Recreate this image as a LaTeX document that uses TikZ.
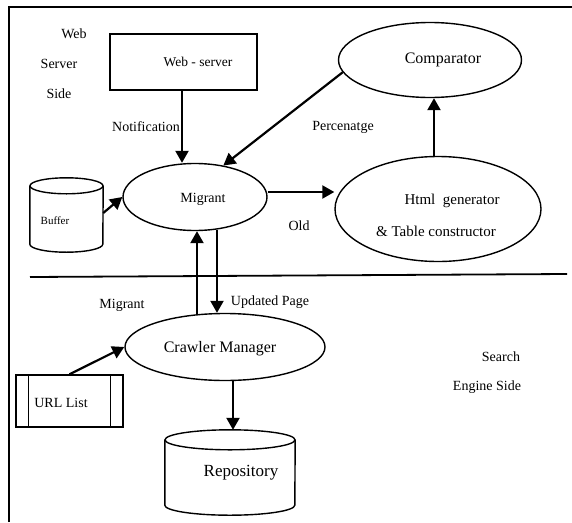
\documentclass[tikz,border=0pt]{standalone}
\usepackage{fontspec}
\setmainfont{Liberation Serif}
\usetikzlibrary{shapes.geometric,arrows.meta}

\tikzset{
  shapeline/.style={draw=black, line width=1.4pt},
  oval/.style={shapeline, ellipse, inner sep=0pt},
  lbl/.style={inner sep=0pt, font=\fontsize{14}{16}\selectfont},
  arr/.style={draw=black, line width=2.2pt, -{Triangle[length=12pt,width=13pt]}},
  frameline/.style={draw=black, line width=1.6pt},
  divider/.style={draw=black, line width=1.8pt},
  hidden/.style={inner sep=0pt, draw=none}
}

\begin{document}
\begin{tikzpicture}[x=1pt, y=-1pt]
\useasboundingbox (0,0) rectangle (572,522);

% outer frame (open on the right and bottom)
\coordinate (fBL) at (9,522);
\coordinate (fTL) at (9,7);
\coordinate (fTR) at (572,7);
\draw[frameline] (fBL) -- (fTL) -- (fTR);

% boundary between the two sides
\coordinate (dL) at (30,277);
\coordinate (dR) at (567,274);
\draw[divider] (dL) -- (dR);

% side captions
\node[lbl] (t-web)    at (74,34)  {Web};
\node[lbl] (t-server) at (59,64)  {Server};
\node[lbl] (t-side)   at (59,94)  {Side};
\node[lbl] (t-search) at (501,357) {Search};
\node[lbl] (t-engine) at (487,387) {Engine Side};

% web server box
\node[shapeline, rectangle, minimum width=147pt, minimum height=56pt, inner sep=0pt] (ws) at (183.5,62) {};
\node[lbl, font=\fontsize{13.5}{16}\selectfont] (ws-t) at (198,62) {Web - server};

% migrant
\node[oval, minimum width=144pt, minimum height=67pt] (mig) at (195,197) {};
\node[lbl] (mig-t) at (203,199) {Migrant};

% comparator
\node[oval, minimum width=183pt, minimum height=75pt] (cmp) at (430,60) {};
\node[lbl, font=\fontsize{16}{18}\selectfont] (cmp-t) at (443,60) {Comparator};

% html generator & table constructor
\node[oval, minimum width=206pt, minimum height=105pt] (html) at (438,209) {};
\node[lbl, font=\fontsize{15}{17}\selectfont] (html-t1) at (452,201) {Html\ \ generator};
\node[lbl, font=\fontsize{15}{17}\selectfont] (html-t2) at (436,231) {\& Table constructor};

% buffer store
\node[hidden, minimum width=73pt, minimum height=74pt] (buf) at (66.5,215) {};
\draw[shapeline] ([yshift=-8pt]buf.north west) -- ([yshift=8pt]buf.south west)
  arc[start angle=180, end angle=360, x radius=36.5pt, y radius=8pt]
  -- ([yshift=-8pt]buf.north east);
\draw[shapeline] ([yshift=-8pt]buf.north) ellipse[x radius=36.5pt, y radius=8pt];
\node[lbl, font=\fontsize{11}{13}\selectfont] (buf-t) at (55,221) {Buffer};

% crawler manager
\node[oval, minimum width=200pt, minimum height=67pt] (cm) at (225,347) {};
\node[lbl, font=\fontsize{16}{18}\selectfont] (cm-t) at (220,349) {Crawler Manager};

% URL list
\node[shapeline, rectangle, minimum width=107pt, minimum height=52pt, inner sep=0pt] (url) at (69.5,401) {};
\draw[shapeline] ([xshift=13pt]url.north west) -- ([xshift=13pt]url.south west);
\draw[shapeline] ([xshift=-13pt]url.north east) -- ([xshift=-13pt]url.south east);
\node[lbl] (url-t) at (61,403) {URL List};

% repository store
\node[hidden, minimum width=130pt, minimum height=85pt] (repo) at (230,472.5) {};
\draw[shapeline] ([yshift=-10pt]repo.north west) -- ([yshift=10pt]repo.south west)
  arc[start angle=180, end angle=360, x radius=65pt, y radius=10pt]
  -- ([yshift=-10pt]repo.north east);
\draw[shapeline] ([yshift=-10pt]repo.north) ellipse[x radius=65pt, y radius=10pt];
\node[lbl, font=\fontsize{17}{19}\selectfont] (repo-t) at (241,473) {Repository};

% connector labels
\node[lbl] (l-notif) at (146,127) {Notification};
\node[lbl] (l-perc)  at (343,127) {Percenatge};
\node[lbl] (l-old)   at (299,226) {Old};
\node[lbl] (l-mig)   at (122,305) {Migrant};
\node[lbl] (l-upd)   at (270,302) {Updated Page};

% connectors
\coordinate (wsx) at ([xshift=-1.5pt]ws.south);
\draw[arr] (wsx) -- (wsx |- mig.north);
\draw[arr] (cmp.188) -- (mig.48);
\coordinate (htx) at ([xshift=-4pt]html.north);
\draw[arr] (htx) -- (htx |- cmp.south);
\coordinate (migE) at ([yshift=5pt]mig.east);
\draw[arr] (migE) -- (migE -| html.west);
\draw[arr] ([yshift=2pt]buf.east) -- (mig.west);

\coordinate (upx) at (197,0);
\coordinate (dnx) at (217,0);
\draw[arr] (upx |- cm.north) ++(0,1) -- (upx |- mig.south);
\draw[arr] (dnx |- mig.south) ++(0,-1.5) -- (dnx |- cm.north);

\draw[arr] (url.north) -- (cm.west);
\coordinate (cmx) at ([xshift=3pt]repo.north);
\draw[arr] (cmx |- cm.south) -- (cmx);
\end{tikzpicture}
\end{document}
